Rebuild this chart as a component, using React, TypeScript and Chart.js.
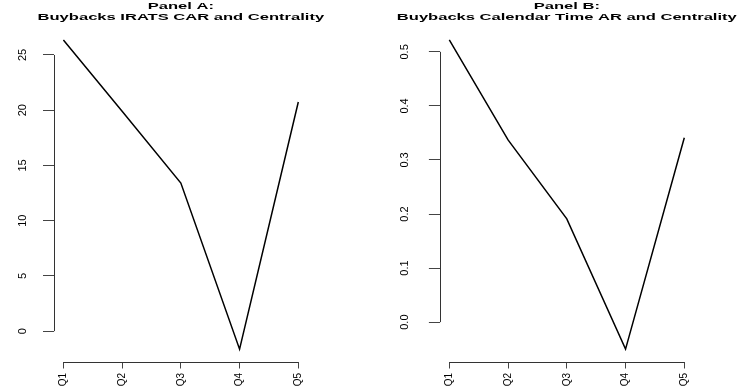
import React, { useEffect, useRef } from 'react';
import { Chart, registerables } from 'chart.js';

Chart.register(...registerables);

// ---- data ----
const quintiles = ['Q1', 'Q2', 'Q3', 'Q4', 'Q5'];
const iratsCar = [26.36, 19.9, 13.4, -1.63, 20.74];
const calendarAr = [0.522, 0.337, 0.191, -0.05, 0.341];
const yTicksA = [0, 5, 10, 15, 20, 25];
const yTicksB = [0, 0.1, 0.2, 0.3, 0.4, 0.5];
const titleA = ['Panel A:', 'Buybacks IRATS CAR and Centrality'];
const titleB = ['Panel B:', 'Buybacks Calendar Time AR and Centrality'];

const FONT = '"Liberation Sans", Arial, Helvetica, sans-serif';

// R-style 4% range expansion
function expand(vals: number[]): [number, number] {
  const lo = Math.min(...vals);
  const hi = Math.max(...vals);
  const r = hi - lo;
  return [lo - 0.04 * r, hi + 0.04 * r];
}

const decor = {
  id: 'decor',
  afterDraw(chart: any, _args: any, opts: any) {
    const { ctx, chartArea, scales } = chart;
    const xs = scales.x;
    const ys = scales.y;
    ctx.save();
    ctx.strokeStyle = '#333';
    ctx.lineWidth = 1;
    // x axis line from first to last tick
    const xa = xs.getPixelForValue(1);
    const xb = xs.getPixelForValue(quintiles.length);
    const yb = Math.round(chartArea.bottom) + 0.5;
    ctx.beginPath();
    ctx.moveTo(xa, yb);
    ctx.lineTo(xb, yb);
    ctx.stroke();
    // y axis line from first to last tick
    const ticks: number[] = opts.yTicks;
    const ya = ys.getPixelForValue(ticks[0]);
    const yz = ys.getPixelForValue(ticks[ticks.length - 1]);
    const xl = Math.round(chartArea.left) + 0.5;
    ctx.beginPath();
    ctx.moveTo(xl, ya);
    ctx.lineTo(xl, yz);
    ctx.stroke();
    // title (centered over plot region)
    const cx = (chartArea.left + chartArea.right) / 2;
    const lines: string[] = opts.title;
    const baselines = [9.4, 19.8];
    ctx.fillStyle = '#000';
    ctx.font = `bold 9.3px ${FONT}`;
    ctx.textAlign = 'center';
    ctx.textBaseline = 'alphabetic';
    lines.forEach((t, i) => {
      ctx.save();
      ctx.translate(cx, baselines[i]);
      ctx.scale(1.78, 1);
      ctx.fillText(t, 0, 0);
      ctx.restore();
    });
    ctx.restore();
  },
};

type PanelProps = {
  values: number[];
  yTicks: number[];
  title: string[];
  decimals: number;
  width: number;
  left: number;
  yAxisWidth: number;
  rightPad: number;
  labelPad: number;
};

function Panel(p: PanelProps) {
  const ref = useRef<HTMLCanvasElement>(null);
  useEffect(() => {
    if (!ref.current) return;
    const [ymin, ymax] = expand(p.values);
    const n = quintiles.length;
    const xr = n - 1;
    const chart = new Chart(ref.current, {
      type: 'line',
      data: {
        datasets: [
          {
            data: p.values.map((v, i) => ({ x: i + 1, y: v })),
            borderColor: '#000',
            borderWidth: 1.5,
            pointRadius: 0,
            tension: 0,
            fill: false,
          },
        ],
      },
      options: {
        responsive: false,
        animation: false,
        events: [],
        layout: { padding: { top: 27.6, right: p.rightPad, left: 0, bottom: 0 } },
        plugins: {
          legend: { display: false },
          tooltip: { enabled: false },
          title: { display: false },
          decor: { title: p.title, yTicks: p.yTicks },
        } as any,
        scales: {
          x: {
            type: 'linear',
            min: 1 - 0.04 * xr,
            max: n + 0.04 * xr,
            afterBuildTicks: (s: any) => {
              s.ticks = quintiles.map((_, i) => ({ value: i + 1 }));
            },
            afterFit: (s: any) => {
              s.height = 30.5;
            },
            grid: { drawOnChartArea: false, drawTicks: true, tickLength: 7, color: '#444', lineWidth: 1 },
            border: { display: false },
            ticks: {
              minRotation: 90,
              maxRotation: 90,
              autoSkip: false,
              padding: 4.5,
              color: '#000',
              font: { family: FONT, size: 10 },
              callback: (v: any) => quintiles[Math.round(Number(v)) - 1] ?? '',
            },
          },
          y: {
            type: 'linear',
            min: ymin,
            max: ymax,
            afterBuildTicks: (s: any) => {
              s.ticks = p.yTicks.map((v) => ({ value: v }));
            },
            afterFit: (s: any) => {
              s.width = p.yAxisWidth;
            },
            grid: { drawOnChartArea: false, drawTicks: true, tickLength: 11, color: '#444', lineWidth: 1 },
            border: { display: false },
            ticks: {
              minRotation: 90,
              maxRotation: 90,
              autoSkip: false,
              crossAlign: 'center',
              padding: p.labelPad,
              color: '#000',
              font: { family: FONT, size: 11 },
              callback: (v: any) => Number(v).toFixed(p.decimals),
            },
          },
        },
      } as any,
      plugins: [decor],
    });
    return () => chart.destroy();
  }, []);
  return (
    <canvas
      ref={ref}
      width={p.width}
      height={392}
      style={{ position: 'absolute', left: p.left, top: 0, width: p.width, height: 392 }}
    />
  );
}

export default function App() {
  return (
    <div style={{ position: 'absolute', left: 0, top: 0, width: 743, height: 392, background: '#fff' }}>
      <Panel
        values={iratsCar}
        yTicks={yTicksA}
        title={titleA}
        decimals={0}
        width={372}
        left={0}
        yAxisWidth={54}
        rightPad={64.3}
        labelPad={14}
      />
      <Panel
        values={calendarAr}
        yTicks={yTicksB}
        title={titleB}
        decimals={1}
        width={371}
        left={372}
        yAxisWidth={67.9}
        rightPad={49.3}
        labelPad={16.4}
      />
    </div>
  );
}
